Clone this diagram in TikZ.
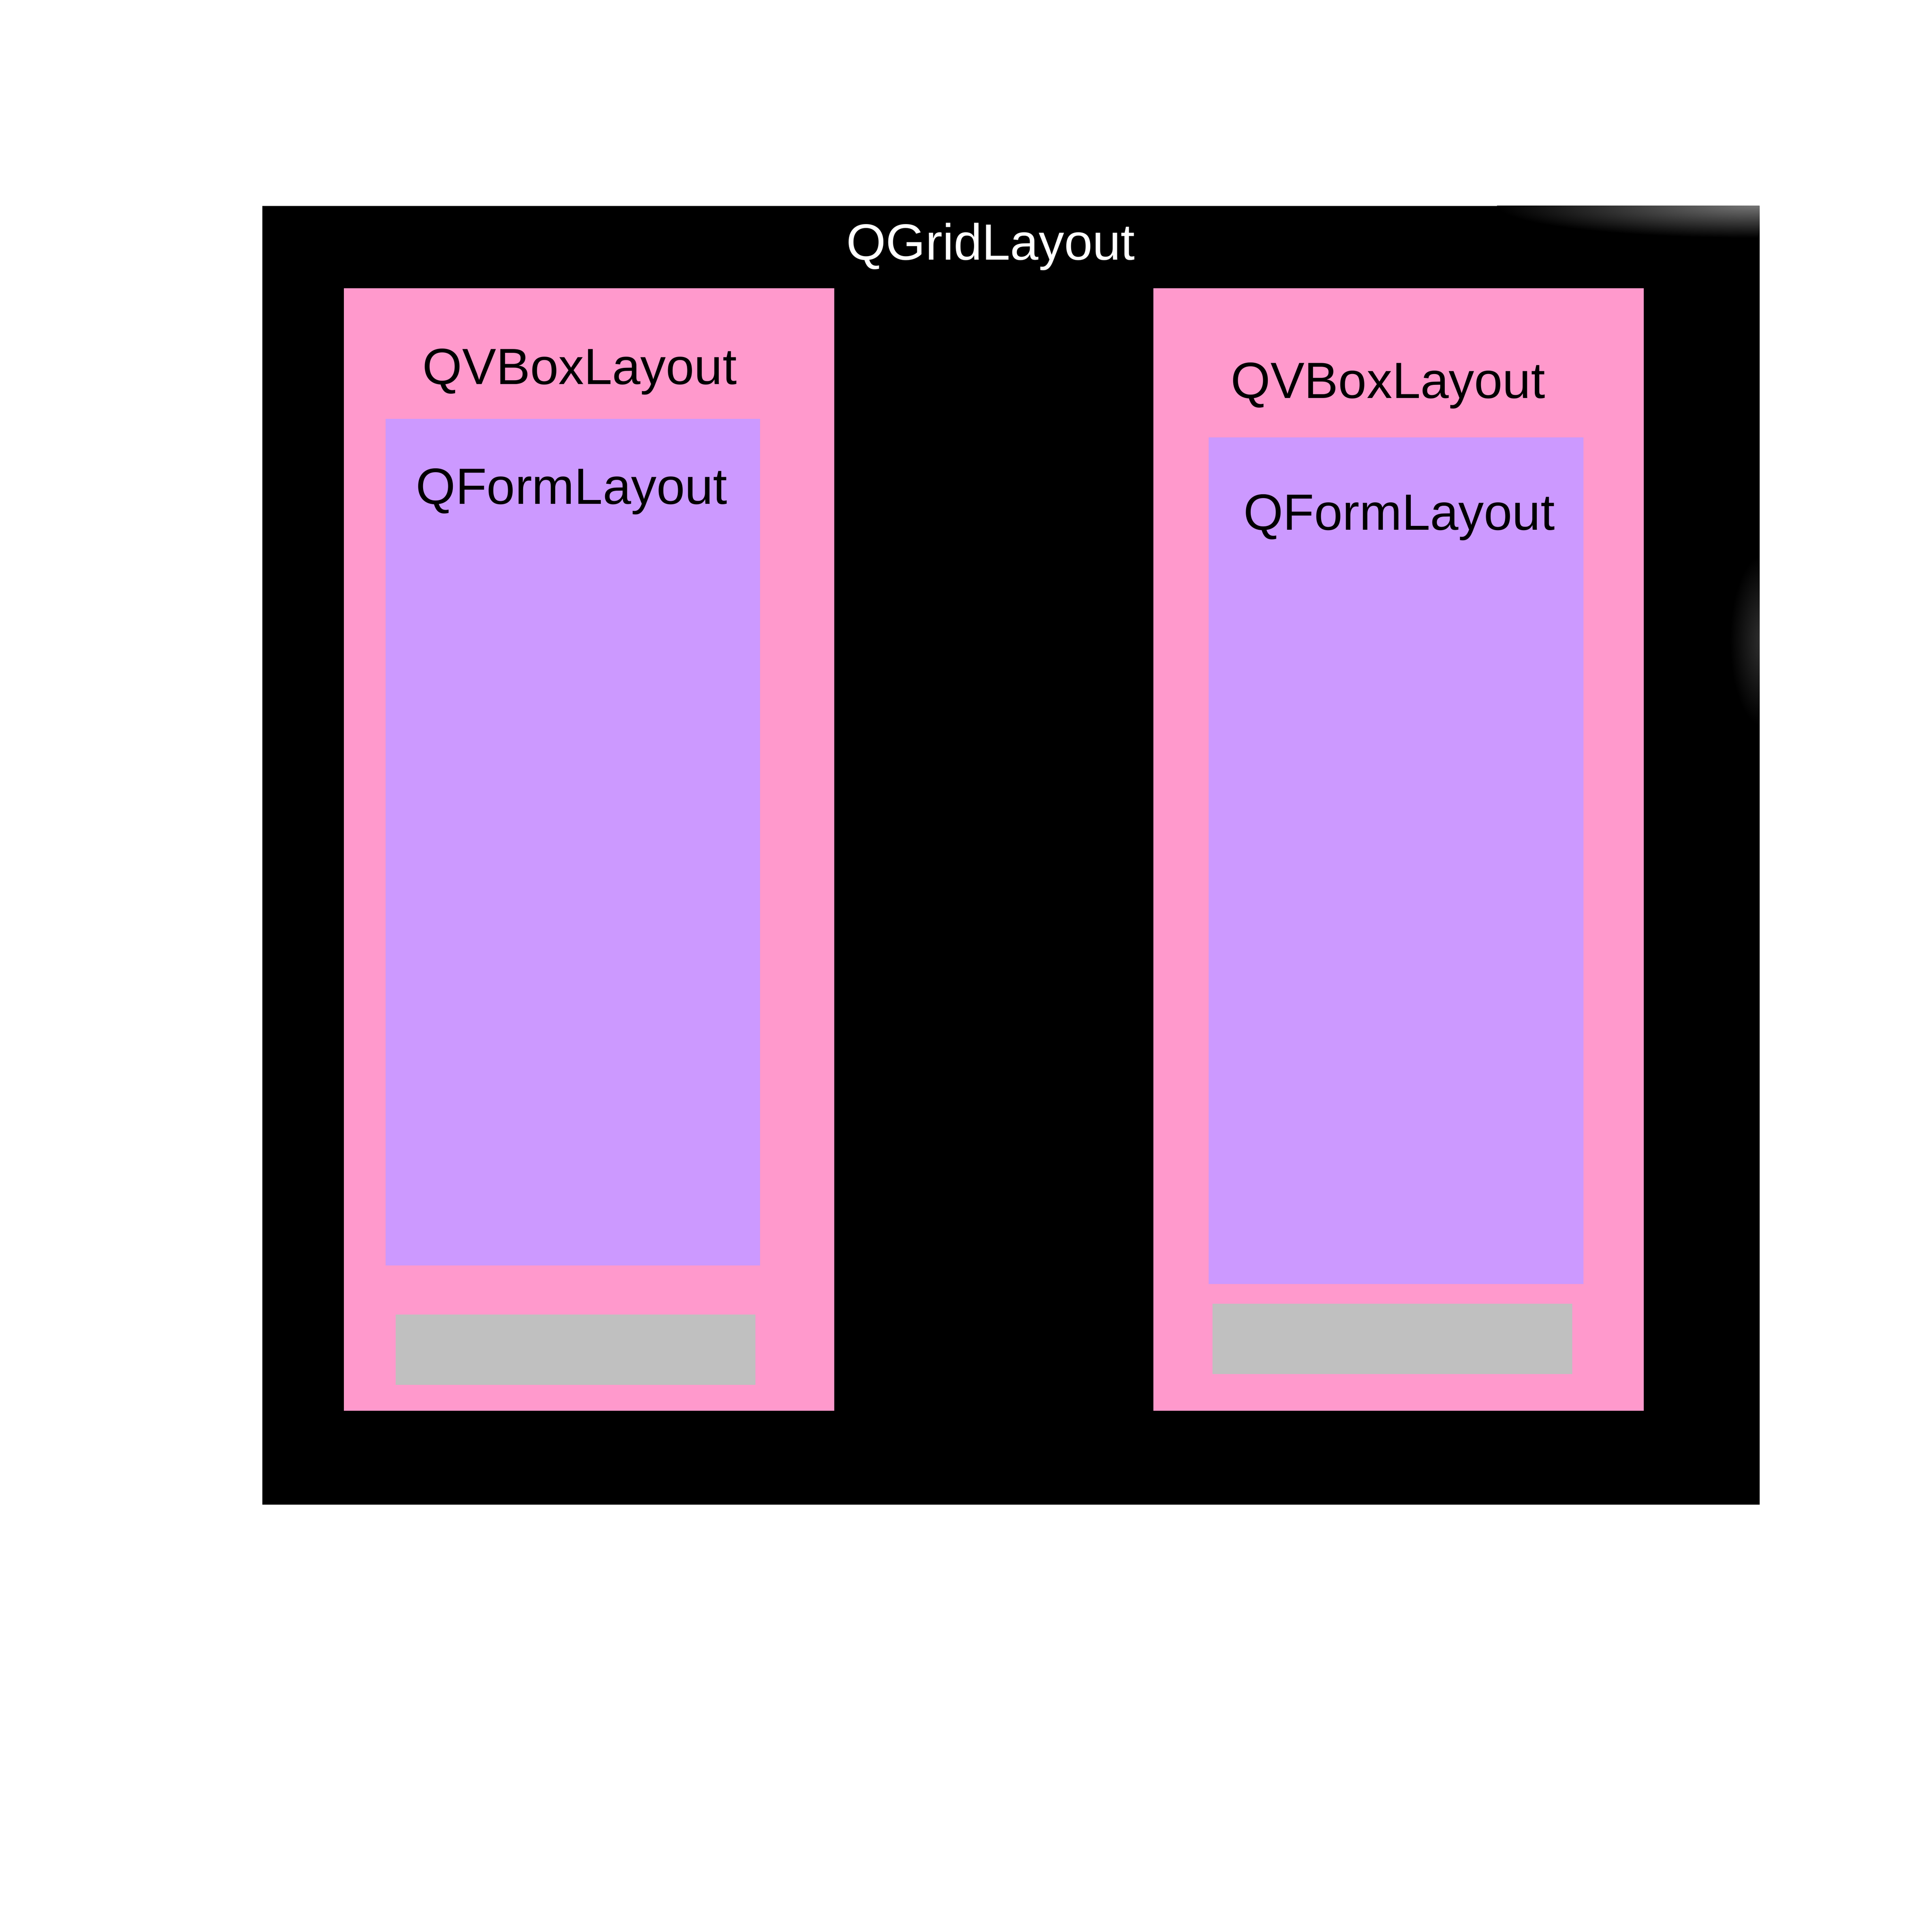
\documentclass[tikz,border=0pt]{standalone}
\usepackage{fontspec}
\setmainfont{Liberation Sans}
\usepackage{tikz}
\definecolor{vboxpink}{RGB}{255,153,204}
\definecolor{formlilac}{RGB}{204,153,255}
\definecolor{spacergrey}{RGB}{192,192,192}
\begin{document}
\begin{tikzpicture}[x = 0.1mm, y = -0.1mm, label/.style = {anchor = base, inner sep = 0pt, font = \fontsize{11.76}{14}\selectfont}]
\useasboundingbox (0,0) rectangle (1568,1568);
\fill[white] (0,0) rectangle (1568,1568);
\fill[black] (213,167) rectangle (1428,1221);
% faint glow on the right hand side of the grid
\begin{scope}
\clip (213,167) rectangle (1428,1221);
\shade[inner color = black!55, outer color = black] (1425,167) ellipse (210 and 26);
\shade[inner color = black!80, outer color = black] (1432,520) ellipse (28 and 70);
\end{scope}
\node[label, white] (grid) at (804,211) {QGridLayout};
\fill[vboxpink] (279,234) rectangle (677,1145);
\fill[vboxpink] (936,234) rectangle (1334,1145);
\node[label] (vboxl) at (470.5,312) {QVBoxLayout};
\node[label] (vboxr) at (1126.5,323) {QVBoxLayout};
\fill[formlilac] (313,340) rectangle (617,1027);
\fill[formlilac] (981,355) rectangle (1285,1042);
\node[label] (forml) at (464,409) {QFormLayout};
\node[label] (formr) at (1135.5,430) {QFormLayout};
\fill[spacergrey] (321,1067) rectangle (613,1124);
\fill[spacergrey] (984,1058) rectangle (1276,1115);
\end{tikzpicture}
\end{document}
